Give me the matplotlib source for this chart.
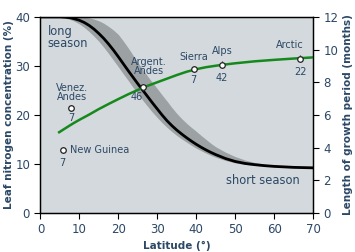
import matplotlib
matplotlib.use('Agg')
import matplotlib.pyplot as plt

# latitude grid (degrees) used for the read-off curves
lat = [0, 2.5, 5,
       6.25, 7.5, 8.75, 10, 11.25, 12.5, 13.75, 15, 16.25, 17.5, 18.75, 20,
       21.25, 22.5, 23.75, 25, 26.25, 27.5, 28.75, 30, 31.25, 32.5, 33.75, 35,
       36.25, 37.5, 38.75, 40, 41.25, 42.5, 43.75, 45,
       47.5, 50, 52.5, 55, 57.5, 60, 62.5, 65, 67.5, 70]
# leaf nitrogen (%) - mean curve and grey band
nitrogen = [40, 40, 40,
            39.95, 39.85, 39.6, 39.3, 38.85, 38.25, 37.5, 36.6, 35.6, 34.45, 33.2, 31.85,
            30.45, 29.05, 27.7, 26.35, 25.05, 23.75, 22.45, 21.2, 19.95, 18.8, 17.8, 16.9,
            16.1, 15.35, 14.65, 14.0, 13.4, 12.85, 12.35, 11.9,
            11.1, 10.5, 10.1, 9.85, 9.65, 9.5, 9.4, 9.3, 9.25, 9.2]
band_upper = [40, 40, 40,
              40, 40, 40, 40, 39.95, 39.8, 39.55, 39.2, 38.7, 38.05, 37.3, 36.4,
              35.1, 33.7, 32.2, 30.7, 29.3, 27.9, 26.6, 25.35, 24.05, 22.8, 21.5, 20.3,
              19.25, 18.3, 17.45, 16.65, 15.8, 15.0, 14.2, 13.5,
              12.4, 11.5, 10.8, 10.3, 9.95, 9.7, 9.5, 9.35, 9.25, 9.2]
band_lower = [40, 40, 39.9,
              39.75, 39.5, 39.1, 38.55, 37.85, 37.0, 36.05, 35.0, 33.8, 32.5, 31.15, 29.8,
              28.4, 27.05, 25.65, 24.3, 23.0, 21.75, 20.55, 19.45, 18.4, 17.45, 16.6, 15.8,
              15.1, 14.45, 13.8, 13.2, 12.7, 12.2, 11.75, 11.35,
              10.7, 10.2, 9.9, 9.7, 9.55, 9.4, 9.3, 9.2, 9.15, 9.1]

# growth period (months) - green curve
g_lat = [4.8, 6.25, 7.5, 8.75, 10, 12.5, 15, 17.5, 20, 22.5, 25, 27.5, 30, 32.5,
         35, 37.5, 40, 42.5, 45, 47.5, 50, 55, 60, 65, 70]
growth = [4.94, 5.16, 5.35, 5.53, 5.7, 6.02, 6.36, 6.67, 6.97, 7.26, 7.53, 7.78,
          8.0, 8.22, 8.44, 8.64, 8.8, 8.92, 9.01, 9.09, 9.16, 9.28, 9.37, 9.45, 9.52]

# sites: latitude, growth period (months), sample size
sites = ['Venez.\nAndes', 'New Guinea', 'Argent.\nAndes', 'Sierra', 'Alps', 'Arctic']
site_lat = [7.9, 5.7, 26.4, 39.3, 46.6, 66.7]
site_months = [6.41, 3.86, 7.68, 8.8, 9.07, 9.45]
site_n = ['7', '7', '46', '7', '42', '22']
site_err = [0.2, 0.2, 0.2, 0.2, 0.2, 0.2]

txt = '#2c4866'
green = '#16891c'

fig = plt.figure(figsize=(3.55, 2.52), dpi=100)
ax = fig.add_axes([0.114, 0.155, 0.768, 0.778])
ax.set_facecolor('#d3d9dc')

ax.fill_between(lat, band_lower, band_upper, color='#9ca1a4', lw=0)
ax.plot(lat, nitrogen, color='black', lw=2)
ax.set_xlim(0, 70)
ax.set_ylim(0, 40)
ax.set_xticks(range(0, 71, 10))
ax.set_yticks(range(0, 41, 10))
ax.set_xlabel('Latitude (°)', fontsize=7.5, fontweight='bold', color=txt, labelpad=3)
ax.set_ylabel('Leaf nitrogen concentration (%)', fontsize=7.5, fontweight='bold',
              color=txt, labelpad=1)

ax2 = ax.twinx()
ax2.set_ylim(0, 12)
ax2.set_yticks(range(0, 13, 2))
ax2.plot(g_lat, growth, color=green, lw=1.8)
ax2.errorbar(site_lat, site_months, yerr=site_err, fmt='o', ms=4, mfc='white',
             mec='#222222', mew=0.9, ecolor='#222222', elinewidth=0.8, capsize=0,
             zorder=5)
ax2.set_ylabel('Length of growth period (months)', fontsize=7.5, fontweight='bold',
               color=txt, labelpad=3)

for a in (ax, ax2):
    a.tick_params(labelsize=8.5, colors='black', labelcolor=txt, length=4, width=0.8)
    for s in a.spines.values():
        s.set_linewidth(0.9)

# label offsets in pixels: (name dx, name dy), (number dx, number dy)
name_off = [(1, 6), (7, 0), (6, 11), (0, 7), (0, 9), (-10, 9)]
num_off = [(0, -5), (0, -8), (-7, -5), (0, -6), (0, -8), (0, -8)]
for i, name in enumerate(sites):
    if name == 'New Guinea':
        ax2.annotate(name, (site_lat[i], site_months[i]), xytext=name_off[i],
                     textcoords='offset pixels', ha='left', va='center',
                     fontsize=7, color=txt)
    else:
        ax2.annotate(name, (site_lat[i], site_months[i]), xytext=name_off[i],
                     textcoords='offset pixels', ha='center', va='bottom',
                     fontsize=7, color=txt, linespacing=0.95)
    ax2.annotate(site_n[i], (site_lat[i], site_months[i]), xytext=num_off[i],
                 textcoords='offset pixels', ha='center', va='top',
                 fontsize=7, color=txt)

ax.text(1.8, 38.4, 'long\nseason', fontsize=8.3, color=txt, va='top', ha='left',
        linespacing=0.95)
ax.text(57.2, 6.6, 'short season', fontsize=8.3, color=txt, va='center', ha='center')

plt.savefig('out.png', dpi=100)
